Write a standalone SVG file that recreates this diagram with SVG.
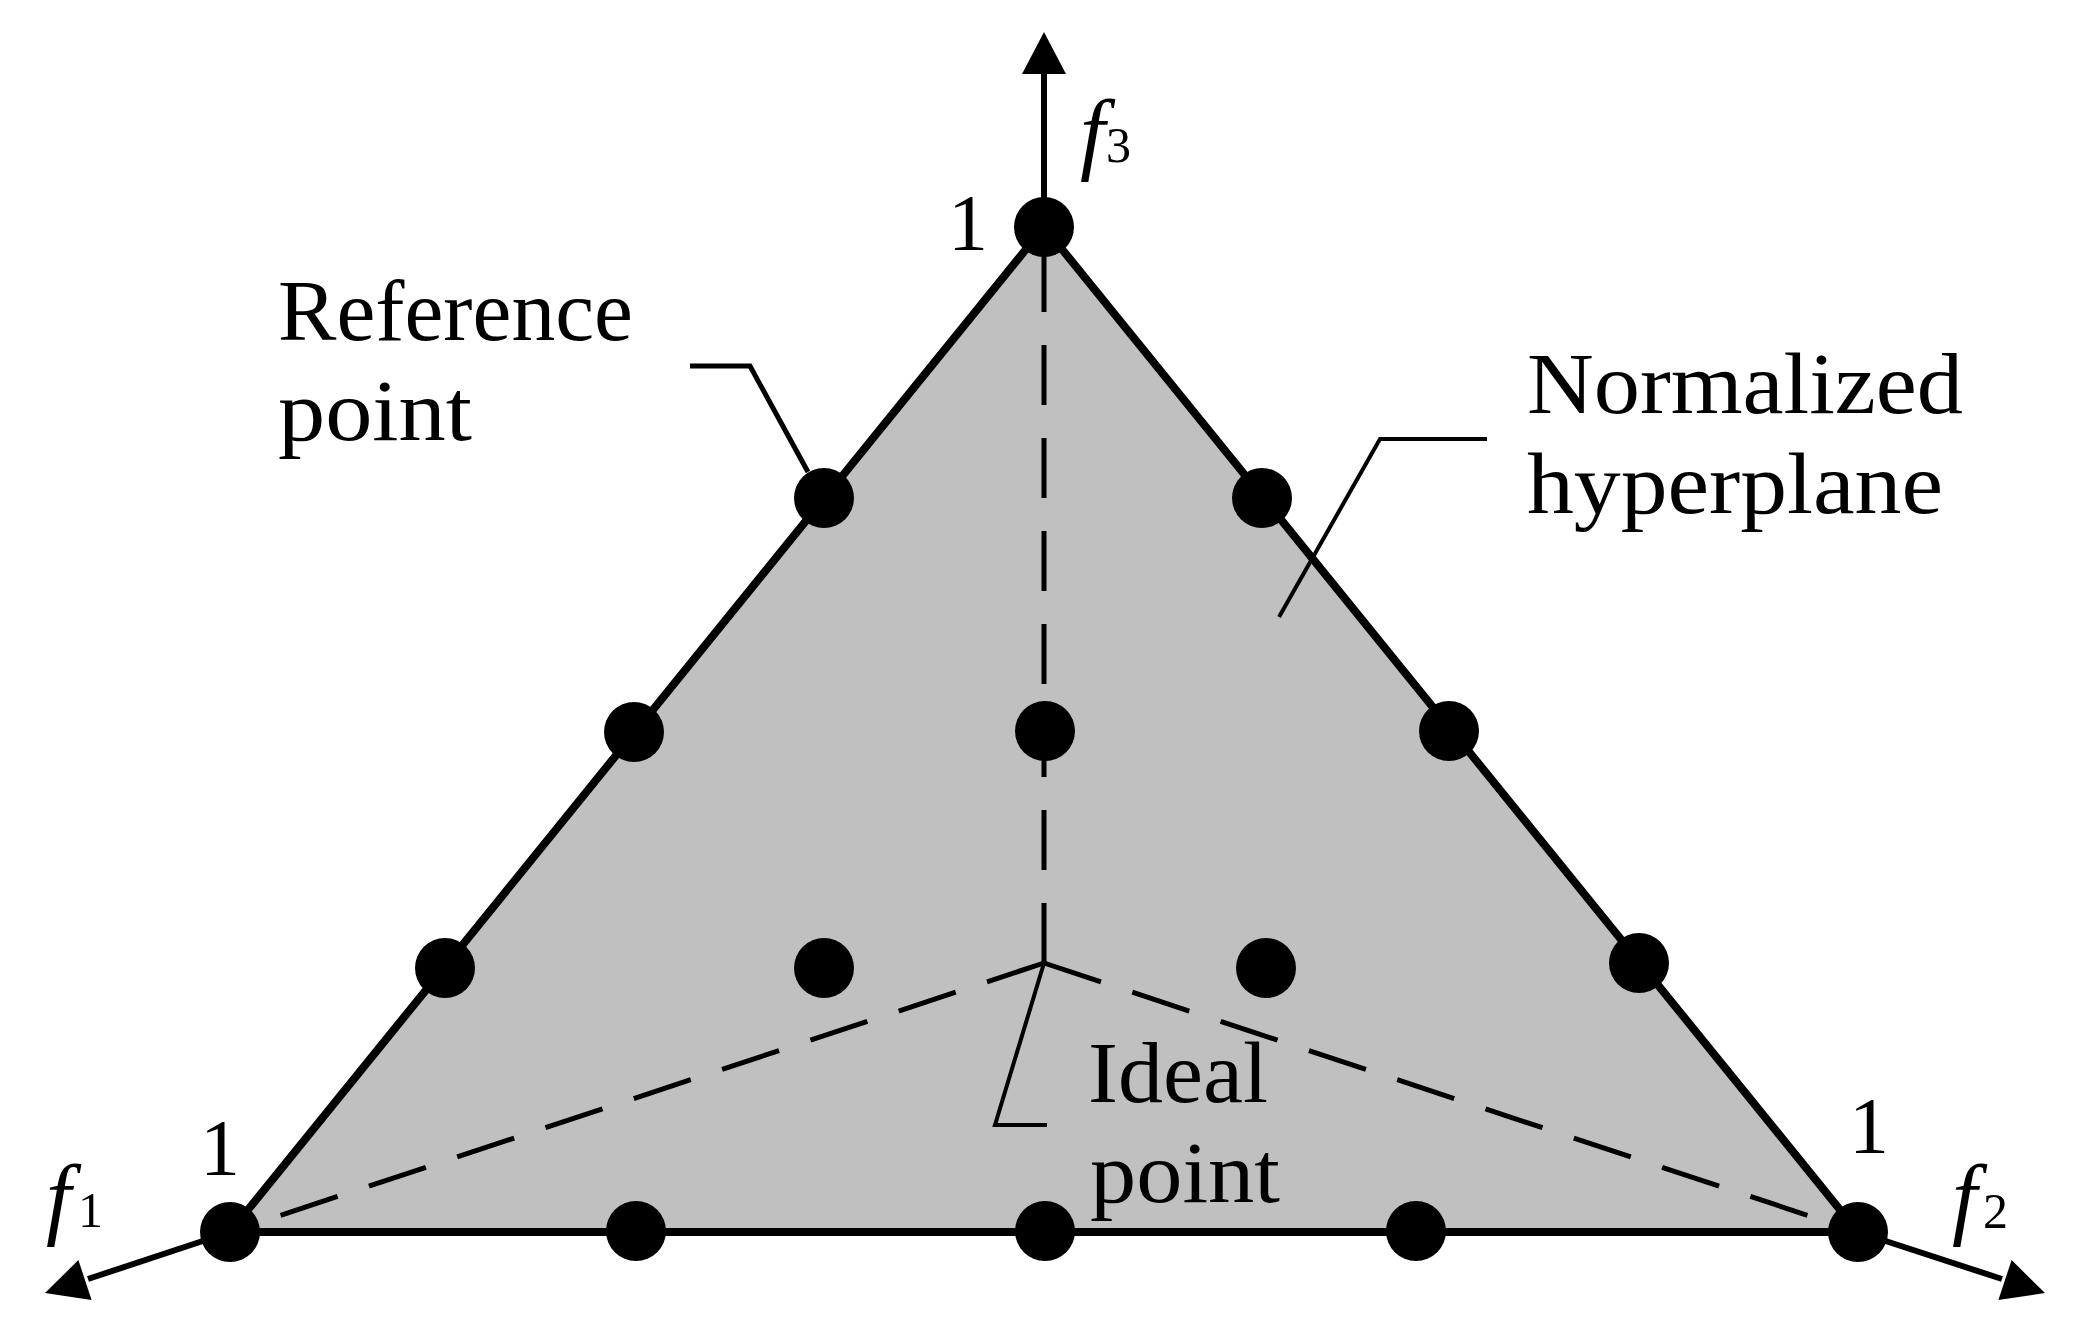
<svg xmlns="http://www.w3.org/2000/svg" width="2079" height="1334" viewBox="0 0 2079 1334">
  <style>
    .lbl { font-family: "Liberation Serif", "Times New Roman", serif; font-size: 86px; fill: #000; }
    .num { font-family: "Liberation Serif", "Times New Roman", serif; font-size: 80px; fill: #000; }
    .fi { font-family: "Liberation Serif", "Times New Roman", serif; font-size: 90px; font-style: italic; fill: #000; }
    .sub { font-family: "Liberation Serif", "Times New Roman", serif; font-size: 50px; fill: #000; }
    .edge { stroke: #000; stroke-width: 8; fill: none; }
    .axis { stroke: #000; stroke-width: 6; fill: none; }
    .dash { stroke: #000; stroke-width: 5; fill: none; stroke-dasharray: 60 33; }
    .leader { stroke: #000; stroke-width: 5; fill: none; stroke-linejoin: miter; }
    .dot { fill: #000; }
    .head { fill: #000; }
  </style>
  <rect width="2079" height="1334" fill="#fff"/>

  <g id="hyperplane">
    <polygon points="1044,227 1858,1232 230,1232" fill="#c0c0c0" stroke="none"/>
  </g>

  <g id="connectors">
    <line class="dash" x1="1044" y1="963" x2="1044" y2="227"/>
    <line class="dash" x1="1044" y1="963" x2="230" y2="1232"/>
    <line class="dash" x1="1044" y1="963" x2="1858" y2="1232"/>
    <polygon class="edge" points="1044,227 1858,1232 230,1232" stroke-linejoin="miter"/>
    <line class="axis" x1="1044" y1="227" x2="1044" y2="70"/>
    <polygon class="head" points="1044,32 1022,74 1066,74"/>
    <line class="axis" x1="230" y1="1232" x2="88" y2="1279"/>
    <polygon class="head" points="45,1293 91.6,1299.9 78.4,1260.1"/>
    <line class="axis" x1="1858" y1="1232" x2="2002" y2="1279"/>
    <polygon class="head" points="2045,1293 1998.4,1299.9 2011.6,1260.1"/>
    <polyline class="leader" points="690,366 750,366 808,472"/>
    <polyline class="leader" points="1487,439 1380,439 1279,617" style="stroke-width:4"/>
    <polyline class="leader" points="1044,963 995,1125 1047,1125" style="stroke-width:4"/>
  </g>

  <g id="reference-points">
    <circle class="dot" cx="1044" cy="227" r="30"/>
    <circle class="dot" cx="824" cy="498" r="30"/>
    <circle class="dot" cx="1262" cy="498" r="30"/>
    <circle class="dot" cx="634" cy="732" r="30"/>
    <circle class="dot" cx="1045" cy="731" r="30"/>
    <circle class="dot" cx="1449" cy="731" r="30"/>
    <circle class="dot" cx="445" cy="968" r="30"/>
    <circle class="dot" cx="824" cy="968" r="30"/>
    <circle class="dot" cx="1266" cy="968" r="30"/>
    <circle class="dot" cx="1639" cy="963" r="30"/>
    <circle class="dot" cx="230" cy="1232" r="30"/>
    <circle class="dot" cx="636" cy="1231" r="30"/>
    <circle class="dot" cx="1045" cy="1231" r="30"/>
    <circle class="dot" cx="1416" cy="1231" r="30"/>
    <circle class="dot" cx="1858" cy="1232" r="30"/>
  </g>

  <g id="axis-labels">
    <text class="fi" x="1080" y="163">f</text>
    <text class="sub" x="1106" y="162">3</text>
    <text class="fi" x="46" y="1228">f</text>
    <text class="sub" x="78" y="1227">1</text>
    <text class="fi" x="1952" y="1228">f</text>
    <text class="sub" x="1983" y="1228">2</text>
    <text class="num" x="968" y="250" text-anchor="middle">1</text>
    <text class="num" x="220" y="1175" text-anchor="middle">1</text>
    <text class="num" x="1869" y="1153" text-anchor="middle">1</text>
  </g>

  <g id="label-reference-point">
    <text class="lbl" x="278" y="340" textLength="355" lengthAdjust="spacingAndGlyphs">Reference</text>
    <text class="lbl" x="278" y="440" textLength="194" lengthAdjust="spacingAndGlyphs">point</text>
  </g>

  <g id="label-normalized-hyperplane">
    <text class="lbl" x="1527" y="413" textLength="436" lengthAdjust="spacingAndGlyphs">Normalized</text>
    <text class="lbl" x="1527" y="513" textLength="416" lengthAdjust="spacingAndGlyphs">hyperplane</text>
  </g>

  <g id="label-ideal-point">
    <text class="lbl" x="1088" y="1102" textLength="180" lengthAdjust="spacingAndGlyphs">Ideal</text>
    <text class="lbl" x="1090" y="1202" textLength="190" lengthAdjust="spacingAndGlyphs">point</text>
  </g>
</svg>
